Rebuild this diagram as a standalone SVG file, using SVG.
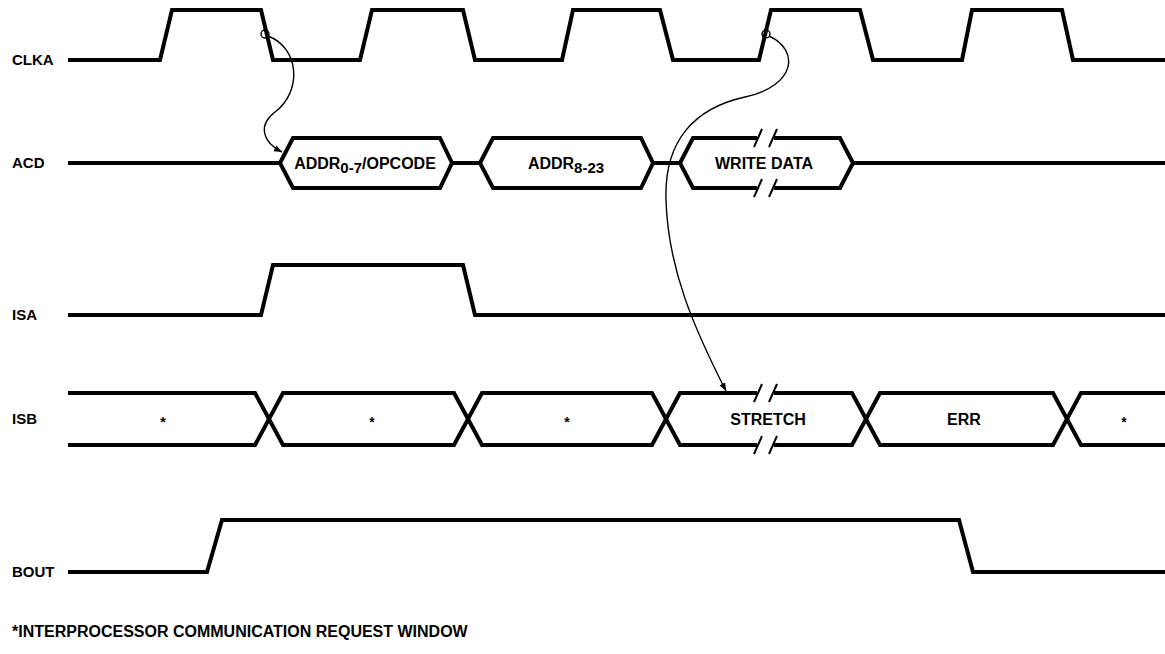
<svg xmlns="http://www.w3.org/2000/svg" width="1165" height="654" viewBox="0 0 1165 654">
<defs>
<style>
.sig{fill:none;stroke:#000;stroke-width:4;stroke-linejoin:miter;stroke-linecap:butt}
.brk{fill:none;stroke:#000;stroke-width:2}
.cur{fill:none;stroke:#000;stroke-width:1.4}
.lbl{font-family:"Liberation Sans",Arial,sans-serif;font-weight:bold;font-size:15px;fill:#000}
.in{font-family:"Liberation Sans",Arial,sans-serif;font-weight:bold;font-size:16px;fill:#000;text-anchor:middle}
.star{font-family:"Liberation Sans",Arial,sans-serif;font-weight:bold;font-size:14px;fill:#000;text-anchor:middle}
.note{font-family:"Liberation Sans",Arial,sans-serif;font-weight:bold;font-size:16px;fill:#000}
</style>
<marker id="ah" viewBox="0 0 10 10" refX="10" refY="5" markerWidth="8" markerHeight="8" orient="auto" markerUnits="userSpaceOnUse">
<path d="M0,1 L10,5 L0,9 Z" fill="#000"/>
</marker>
</defs>
<rect width="1165" height="654" fill="#fff"/>

<g id="clka">
<text class="lbl" x="12" y="65">CLKA</text>
<path class="sig" d="M68,60 H160 L172,10 H261 L273,60 H360 L372,10 H463 L475,60 H562 L573,10 H660 L673,60 H759 L771,10 H860 L873,60 H962 L972,10 H1062 L1073,60 H1165"/>
</g>

<g id="acd">
<text class="lbl" x="12" y="168">ACD</text>
<path class="sig" d="M68,163 H280 M452,163 H480 M653,163 H680 M853,163 H1165"/>
<path class="sig" d="M280,163 L293,138 H440 L452,163 L440,188 H293 Z"/>
<path class="sig" d="M480,163 L493,138 H641 L653,163 L641,188 H493 Z"/>
<path class="sig" d="M757,138 H693 L680,163 L693,188 H757 M774,138 H840 L853,163 L840,188 H774"/>
<path class="brk" d="M754,147 L762,129 M769,147 L777,129 M754,197 L762,179 M769,197 L777,179"/>
<text class="in" x="365" y="169">ADDR<tspan dy="4" font-size="15">0-7</tspan><tspan dy="-4">/OPCODE</tspan></text>
<text class="in" x="566" y="169">ADDR<tspan dy="4" font-size="15">8-23</tspan></text>
<text class="in" x="764" y="169">WRITE DATA</text>
</g>

<g id="isa">
<text class="lbl" x="12" y="320">ISA</text>
<path class="sig" d="M68,315 H261 L273,265 H463 L475,315 H1165"/>
</g>

<g id="isb">
<text class="lbl" x="12" y="424">ISB</text>
<path class="sig" d="M68,393 H255 L283,445 H454 L482,393 H652 L680,445 H757"/>
<path class="sig" d="M68,445 H255 L283,393 H454 L482,445 H652 L680,393 H757"/>
<path class="sig" d="M774,393 H852 L880,445 H1053 L1081,393 H1165"/>
<path class="sig" d="M774,445 H852 L880,393 H1053 L1081,445 H1165"/>
<path class="brk" d="M754,402 L762,384 M769,402 L777,384 M754,454 L762,436 M769,454 L777,436"/>
<text class="star" x="163" y="427">*</text>
<text class="star" x="372" y="427">*</text>
<text class="star" x="567" y="427">*</text>
<text class="in" x="768" y="425">STRETCH</text>
<text class="in" x="964" y="425">ERR</text>
<text class="star" x="1124" y="427">*</text>
</g>

<g id="bout">
<text class="lbl" x="12" y="577">BOUT</text>
<path class="sig" d="M68,572 H207 L222,520 H959 L973,572 H1165"/>
</g>

<g id="connectors">
<circle cx="265" cy="34" r="4" fill="none" stroke="#000" stroke-width="1.4"/>
<circle cx="766" cy="34" r="4" fill="none" stroke="#000" stroke-width="1.4"/>
<path class="cur" marker-end="url(#ah)" d="M268,36 C300,48 302,92 275,112 C258,125 262,142 282,152"/>
<path class="cur" marker-end="url(#ah)" d="M769,36 C800,50 796,86 745,97 C695,108 664,140 666,200 C668,270 695,330 726,391"/>
</g>

<text id="footnote" class="note" x="12" y="637">*INTERPROCESSOR COMMUNICATION REQUEST WINDOW</text>
</svg>
